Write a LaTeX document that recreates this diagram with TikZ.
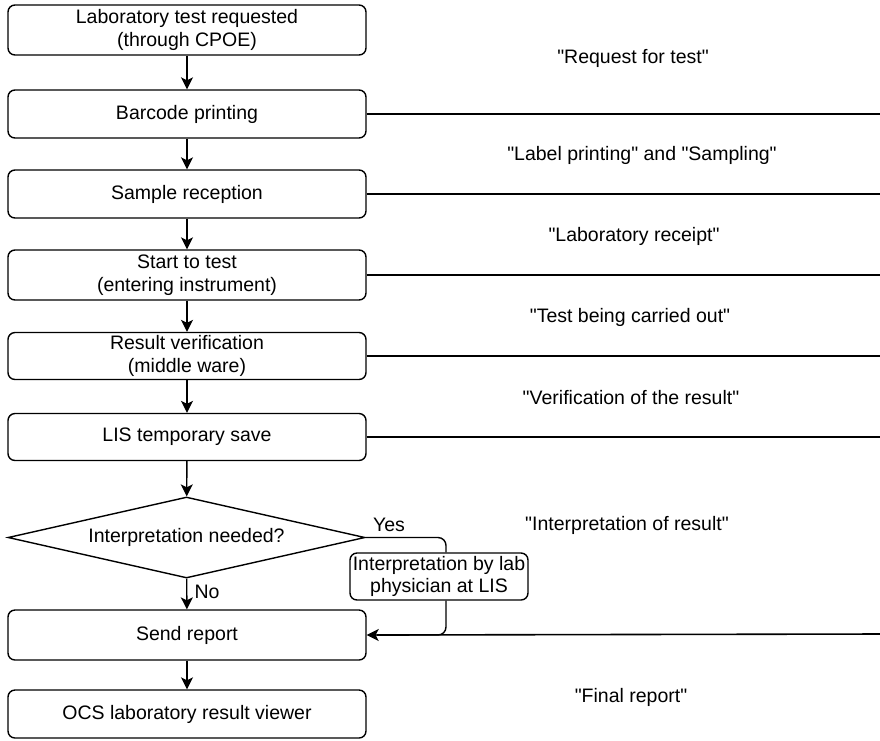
\documentclass[tikz,border=0pt]{standalone}
\usepackage{fontspec}
\setmainfont{Liberation Sans}[Ligatures=TeXOff]
\usetikzlibrary{arrows.meta,shapes.geometric,calc}
\begin{document}
\begin{tikzpicture}[x=1pt,y=-1pt,
  every node/.style={font=\fontsize{19.5}{22.5}\selectfont},
  procbox/.style={draw,line width=1.4pt,rounded corners=7pt,minimum width=358pt,inner sep=0pt,align=center},
  flow/.style={line width=1.4pt,-{Stealth[length=12pt,width=12pt,inset=3pt]}},
  plainline/.style={line width=1.4pt},
  sepline/.style={line width=1.6pt},
  phase/.style={align=center,inner sep=0pt}]
\useasboundingbox (0,0) rectangle (880,740);

% main process boxes
\node[procbox,minimum height=50pt] (b1) at (187,30) {Laboratory test requested\\(through CPOE)};
\node[procbox,minimum height=48pt] (b2) at (187,114) {Barcode printing};
\node[procbox,minimum height=48pt] (b3) at (187,194) {Sample reception};
\node[procbox,minimum height=50pt] (b4) at (187,275) {Start to test\\(entering instrument)};
\node[procbox,minimum height=47pt] (b5) at (187,356) {Result verification\\(middle ware)};
\node[procbox,minimum height=47pt] (b6) at (187,437) {LIS temporary save};
\node[draw,diamond,aspect=4.41,minimum width=357pt,minimum height=81pt,inner sep=0pt,line width=1.4pt] (dec) at (186.5,537.5) {Interpretation needed?};
\node[procbox,minimum height=50pt] (send) at (187,635) {Send report};
\node[procbox,minimum height=48pt] (ocs) at (187,714) {OCS laboratory result viewer};
\node[draw,line width=1.4pt,rounded corners=7pt,minimum width=178pt,minimum height=47pt,inner sep=0pt,align=center] (interp) at (439,576.5) {Interpretation by lab\\physician at LIS};

% flow arrows
\draw[flow] (b1) -- (b2);
\draw[flow] (b2) -- (b3);
\draw[flow] (b3) -- (b4);
\draw[flow] (b4) -- (b5);
\draw[flow] (b5) -- (b6);
\draw[flow] (b6) -- (dec);
\draw[flow] (dec) -- (send);
\draw[flow] (send) -- (ocs);
\draw[plainline,rounded corners=8pt] (dec.east) -| ([xshift=7pt]interp.north);
\draw[flow,rounded corners=8pt] ([xshift=7pt]interp.south) |- (send.east);

\node (yes) at (389,525) {Yes};
\node (no) at (207,592) {No};

% separator lines to the right edge
\coordinate (r2) at (880,114);
\coordinate (r3) at (880,194);
\coordinate (r4) at (880,275);
\coordinate (r5) at (880,356);
\coordinate (r6) at (880,437);
\coordinate (r8) at (880,634);
\draw[sepline] (b2.east) -- (r2);
\draw[sepline] (b3.east) -- (r3);
\draw[sepline] (b4.east) -- (r4);
\draw[sepline] (b5.east) -- (r5);
\draw[sepline] (b6.east) -- (r6);
\draw[sepline] (r8) -- ([xshift=10pt]send.east);

% phase labels
\node[phase] (p1) at (633,58) {"Request for test"};
\node[phase] (p2) at (642,155) {"Label printing" and "Sampling"};
\node[phase] (p3) at (634,236) {"Laboratory receipt"};
\node[phase] (p4) at (630,317) {"Test being carried out"};
\node[phase] (p5) at (631,398) {"Verification of the result"};
\node[phase] (p6) at (627,525) {"Interpretation of result"};
\node[phase] (p7) at (631,697) {"Final report"};
\end{tikzpicture}
\end{document}
